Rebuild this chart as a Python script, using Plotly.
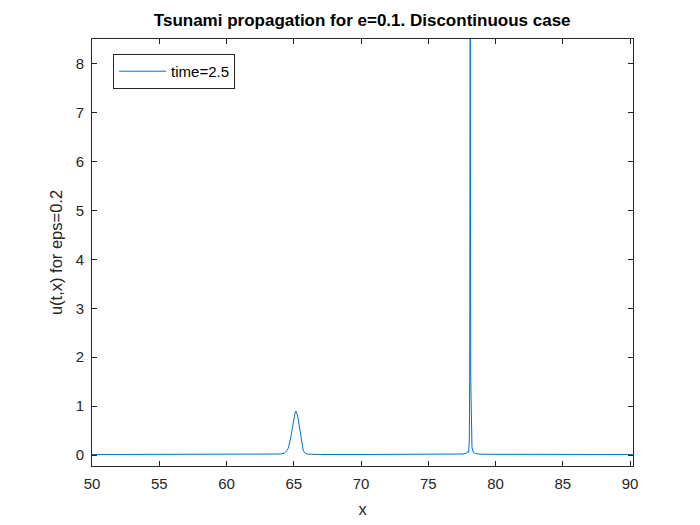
import plotly.graph_objects as go

x_vals = [50.0, 52.0, 55.0, 58.0, 60.0, 62.0, 63.5, 64.0, 64.3, 64.5, 64.6, 64.7, 64.8, 64.9, 65.0,
          65.1, 65.15, 65.2, 65.3, 65.4, 65.5, 65.6, 65.7, 65.8, 66.0, 66.3, 67.0, 70.0, 73.0, 76.0,
          77.5, 77.8, 77.9, 77.95, 78.0, 78.05, 78.08, 78.1, 78.12, 78.14, 78.16, 78.2, 78.25,
          78.35, 78.5, 79.0, 82.0, 85.0, 88.0, 90.2]
u_vals = [0.01, 0.01, 0.01, 0.01, 0.01, 0.01, 0.015, 0.02, 0.04, 0.09, 0.15, 0.25, 0.39, 0.56, 0.74,
          0.86, 0.9, 0.88, 0.78, 0.6, 0.4, 0.22, 0.1, 0.05, 0.02, 0.015, 0.01, 0.01, 0.01, 0.015,
          0.02, 0.03, 0.05, 0.07, 0.05, 0.3, 1.5, 5.0, 8.9, 5.0, 1.5, 0.4, 0.15,
          0.06, 0.03, 0.015, 0.01, 0.01, 0.01, 0.01]

x_ticks = [50, 55, 60, 65, 70, 75, 80, 85, 90]
y_ticks = [0, 1, 2, 3, 4, 5, 6, 7, 8]

fig = go.Figure()
fig.add_trace(go.Scatter(x=x_vals, y=u_vals, mode="lines", name="time=2.5",
                         line=dict(color="#0072BD", width=1)))

font_family = "Liberation Sans, Arial, sans-serif"
axis_common = dict(showline=True, linecolor="#262626", linewidth=1, mirror="ticks",
                   ticks="inside", ticklen=5, tickcolor="#262626", showgrid=False,
                   zeroline=False, automargin=False, ticklabelstandoff=4,
                   tickfont=dict(size=15, color="#262626", family=font_family))

fig.update_layout(
    width=700, height=525,
    paper_bgcolor="white", plot_bgcolor="white",
    margin=dict(l=84, r=75, t=31, b=67),
    title=dict(text="<b>Tsunami propagation for e=0.1. Discontinuous case</b>",
               x=0.506, xanchor="center", y=0.977, yanchor="middle",
               font=dict(size=17, color="black", family=font_family)),
    xaxis=dict(range=[50, 90.22], tickvals=x_ticks,
               title=dict(text="x", font=dict(size=16.5, color="#262626", family=font_family), standoff=12),
               **axis_common),
    yaxis=dict(range=[-0.225, 8.51], tickvals=y_ticks,
               title=dict(text="u(t,x) for eps=0.2", font=dict(size=16.5, color="#262626", family=font_family), standoff=8),
               **axis_common),
    showlegend=True,
    legend=dict(x=0.039, y=0.965, xanchor="left", yanchor="top",
                bordercolor="#262626", borderwidth=1, bgcolor="white",
                font=dict(size=15, color="black", family=font_family),
                tracegroupgap=0, itemwidth=47),
)

fig.write_html("out.html")
